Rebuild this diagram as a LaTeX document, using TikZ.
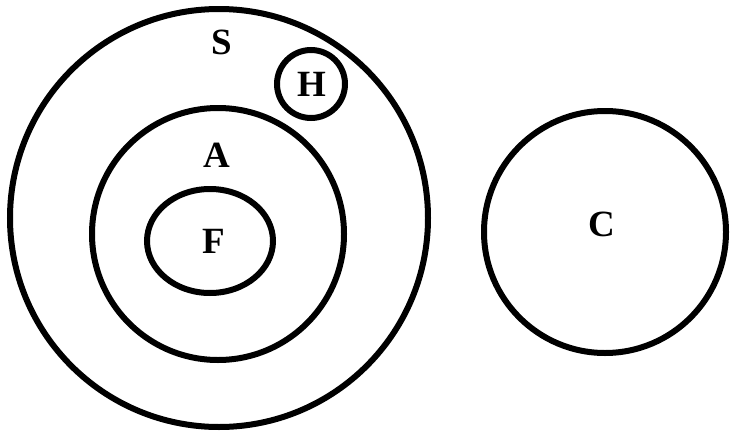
\documentclass[tikz,border=0pt]{standalone}
\usepackage{fontspec}
\setmainfont{Liberation Serif}
\usepackage{tikz}

\begin{document}
\begin{tikzpicture}[x=1pt, y=-1pt, line width=6pt]
        \useasboundingbox (0,0) rectangle (731,434);
        \tikzset{lbl/.style={font=\fontsize{37}{37}\selectfont\bfseries}}

        % S and what lies inside it
        \draw (219,218) circle (209);
        \node[lbl] (S) at (222,42) {S};

        \draw (311,84) circle (34);
        \node[lbl] (H) at (312,84) {H};

        \draw (218,234) circle (126);
        \node[lbl] (A) at (217,155) {A};

        \draw (210,241) ellipse (63 and 52);
        \node[lbl] (F) at (214,241) {F};

        % C apart
        \draw (605,232) circle (121);
        \node[lbl] (C) at (602,224) {C};
      \end{tikzpicture}
\end{document}
